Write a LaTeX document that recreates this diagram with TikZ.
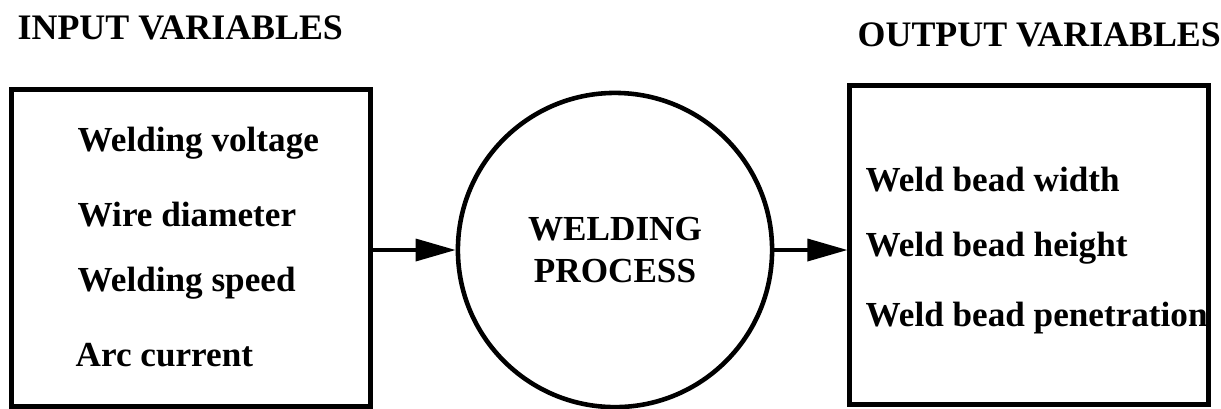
\documentclass[tikz,border=0pt]{standalone}
\usepackage{fontspec}
\setmainfont{Liberation Serif}
\usetikzlibrary{positioning, arrows.meta}

\begin{document}
\begin{tikzpicture}[
  x=0.01cm, y=-0.01cm,
  every node/.style={font=\fontsize{10}{12}\selectfont\bfseries, text=black},
  varbox/.style={
    rectangle, draw=black, line width=1.4pt,
    minimum width=3.58cm, minimum height=#1, inner sep=0pt
  },
  procnode/.style={
    circle, draw=black, line width=1.3pt,
    minimum size=3.14cm, inner sep=0pt, align=center
  },
  varitem/.style={anchor=west, inner sep=0pt},
  heading/.style={anchor=west, inner sep=0pt, font=\fontsize{10.2}{12}\selectfont\bfseries},
  flow/.style={-{Triangle[length=4mm, width=2.2mm]}, line width=1pt},
]
\useasboundingbox (0,0) rectangle (1221,408);

% === BOXES AND PROCESS ===
\node[varbox=3.17cm] (inbox) at (191,248) {};
\node[procnode] (proc) at (615,250) {WELDING\\PROCESS};
\node[varbox=3.19cm] (outbox) at (1029,245) {};

% === Headings ===
\node[heading] (inhead) at (17,28) {INPUT VARIABLES};
\node[heading] (outhead) at (857,35) {OUTPUT VARIABLES};

% === Input variables ===
\node[varitem] (voltage) at (77,143) {Welding voltage};
\node[varitem] (diameter) at (77,215) {Wire diameter};
\node[varitem] (speed) at (77,283) {Welding speed};
\node[varitem] (current) at (75,355) {Arc current};

% === Output variables ===
\node[varitem] (width) at (865,180) {Weld bead width};
\node[varitem] (height) at (865,248) {Weld bead height};
\node[varitem] (penetration) at (865,318) {Weld bead penetration};

% === Arrows ===
\draw[flow] (inbox.east |- proc.west) -- (proc.west);
\draw[flow] (proc.east) -- (proc.east -| outbox.west);

\end{tikzpicture}
\end{document}
